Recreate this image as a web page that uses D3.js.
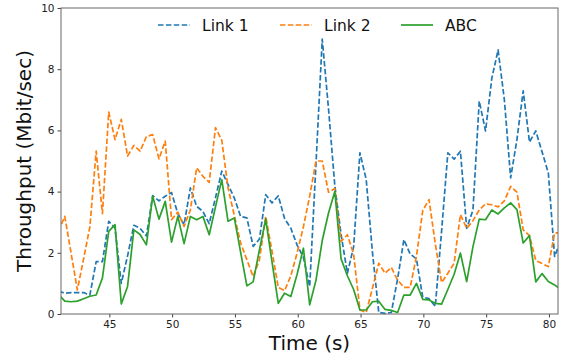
<!DOCTYPE html>
<html>
<head>
<meta charset="utf-8">
<script src="https://cdn.jsdelivr.net/npm/d3@7"></script>
<style>
  html, body { margin: 0; padding: 0; background: #fff; }
  svg { display: block; font-family: "DejaVu Sans", sans-serif; }
</style>
</head>
<body>
<svg id="chart" width="563" height="360"></svg>
<script>
// time base: 0.5 s sampling
const startTime = 40.95;
const step = 0.5;

const link1 = [0.75,0.68,0.70,0.70,0.70,0.62,1.71,1.71,3.03,2.81,
  1.00,1.90,2.90,2.80,2.55,3.87,3.70,3.85,3.97,3.28,
  2.92,4.12,3.52,3.35,2.95,3.80,4.67,4.23,3.79,3.19,
  3.14,2.21,2.45,3.90,3.63,3.86,3.12,2.80,2.25,1.85,
  0.90,4.90,8.98,6.70,4.20,2.60,1.33,2.20,5.27,4.39,
  2.00,0.05,0.02,0.05,1.15,2.43,1.96,1.80,0.55,0.50,
  0.25,2.70,5.27,5.06,5.32,2.80,3.40,6.96,5.98,7.70,
  8.63,7.00,4.45,5.70,7.29,5.62,5.98,5.30,4.61,1.88,2.40];

const link2 = [2.70,3.19,2.00,0.79,1.80,2.85,5.32,3.28,6.60,5.70,
  6.36,5.16,5.51,5.32,5.80,5.86,5.07,5.65,3.08,3.33,
  2.86,3.40,4.78,4.50,4.30,6.09,5.68,4.12,3.22,2.32,
  1.77,1.22,1.77,3.19,2.05,0.87,0.76,1.25,2.00,2.85,
  3.85,5.00,5.00,3.98,4.10,2.37,2.59,1.95,0.13,0.05,
  0.85,1.66,1.33,1.52,1.11,0.87,0.87,1.88,3.38,3.74,
  2.30,1.03,1.33,1.66,3.25,2.80,3.05,3.40,3.60,3.57,
  3.50,3.70,4.17,3.98,2.75,2.56,1.75,1.65,1.55,2.65,2.65];

const abc = [0.65,0.42,0.40,0.42,0.50,0.58,0.62,1.18,2.70,2.92,
  0.33,0.90,2.75,2.60,2.26,3.85,3.10,3.68,2.35,3.19,
  2.30,3.19,3.08,3.19,2.59,3.50,4.39,3.03,3.14,2.02,
  0.92,1.05,2.10,3.10,1.70,0.35,0.68,0.57,1.30,2.15,
  0.30,1.10,2.40,3.30,4.00,1.80,1.25,0.80,0.13,0.13,
  0.40,0.42,0.15,0.12,0.05,0.62,0.62,1.00,0.48,0.46,
  0.35,0.32,0.80,1.30,1.99,1.06,2.20,3.10,3.08,3.40,
  3.27,3.47,3.63,3.41,2.32,2.56,1.05,1.32,1.06,0.95,0.80];

const seriesNames = ["Link 1", "Link 2", "ABC"];
const xTicks = [45, 50, 55, 60, 65, 70, 75, 80];
const yTicks = [0, 2, 4, 6, 8, 10];
const xDomain = [41.15, 80.72];
const yDomain = [0, 10];

const styles = [
  {color: "#1f77b4", dash: "5.5,2.4"},
  {color: "#ff7f0e", dash: "5.5,2.4"},
  {color: "#2ca02c", dash: null}
];

const m = {left: 61, right: 558, top: 8, bottom: 314};
const svg = d3.select("#chart");

const x = d3.scaleLinear().domain(xDomain).range([m.left, m.right]);
const y = d3.scaleLinear().domain(yDomain).range([m.bottom, m.top]);

svg.append("defs").append("clipPath").attr("id", "clip")
  .append("rect").attr("x", m.left).attr("y", m.top - 2)
  .attr("width", m.right - m.left).attr("height", m.bottom - m.top + 3);

const data = [link1, link2, abc].map(arr => arr.map((v, i) => ({t: startTime + step * i, v})));

const line = d3.line().x(d => x(d.t)).y(d => y(d.v));

const g = svg.append("g").attr("clip-path", "url(#clip)");
data.forEach((d, k) => {
  g.append("path").datum(d)
    .attr("fill", "none")
    .attr("stroke", styles[k].color)
    .attr("stroke-width", 1.7)
    .attr("stroke-linejoin", "round")
    .attr("stroke-dasharray", styles[k].dash)
    .attr("d", line);
});

// axes
const xAxis = d3.axisBottom(x).tickValues(xTicks).tickSize(3.5).tickPadding(3).tickFormat(d3.format("d"));
const yAxis = d3.axisLeft(y).tickValues(yTicks).tickSize(3.5).tickPadding(3).tickFormat(d3.format("d"));

const gx = svg.append("g").attr("transform", `translate(0,${m.bottom})`).call(xAxis);
const gy = svg.append("g").attr("transform", `translate(${m.left},0)`).call(yAxis);
[gx, gy].forEach(a => {
  a.select(".domain").remove();
  a.selectAll(".tick line").attr("stroke", "#444").attr("stroke-width", 1);
  a.selectAll(".tick text").attr("fill", "#222").style("font-size", "10.5px")
    .style("font-family", "'DejaVu Sans', sans-serif");
});

// frame
svg.append("rect").attr("x", m.left).attr("y", m.top)
  .attr("width", m.right - m.left).attr("height", m.bottom - m.top)
  .attr("fill", "none").attr("stroke", "#666").attr("stroke-width", 1);

// axis labels
svg.append("text").attr("x", (m.left + m.right) / 2).attr("y", 350)
  .attr("text-anchor", "middle").style("font-size", "20px").attr("fill", "#111")
  .text("Time (s)");
svg.append("text").attr("transform", `translate(31,${(m.top + m.bottom) / 2}) rotate(-90)`)
  .attr("text-anchor", "middle").style("font-size", "20px").attr("fill", "#111")
  .text("Throughput (Mbit/sec)");

// legend
const legX = [158, 280, 401];
const lg = svg.append("g");
seriesNames.forEach((name, k) => {
  lg.append("line").attr("x1", legX[k]).attr("x2", legX[k] + 32)
    .attr("y1", 25).attr("y2", 25)
    .attr("stroke", styles[k].color).attr("stroke-width", 1.7)
    .attr("stroke-dasharray", styles[k].dash);
  lg.append("text").attr("x", legX[k] + 44).attr("y", 25)
    .attr("dy", "0.36em").style("font-size", "15.5px").attr("fill", "#111")
    .text(name);
});
</script>
</body>
</html>
